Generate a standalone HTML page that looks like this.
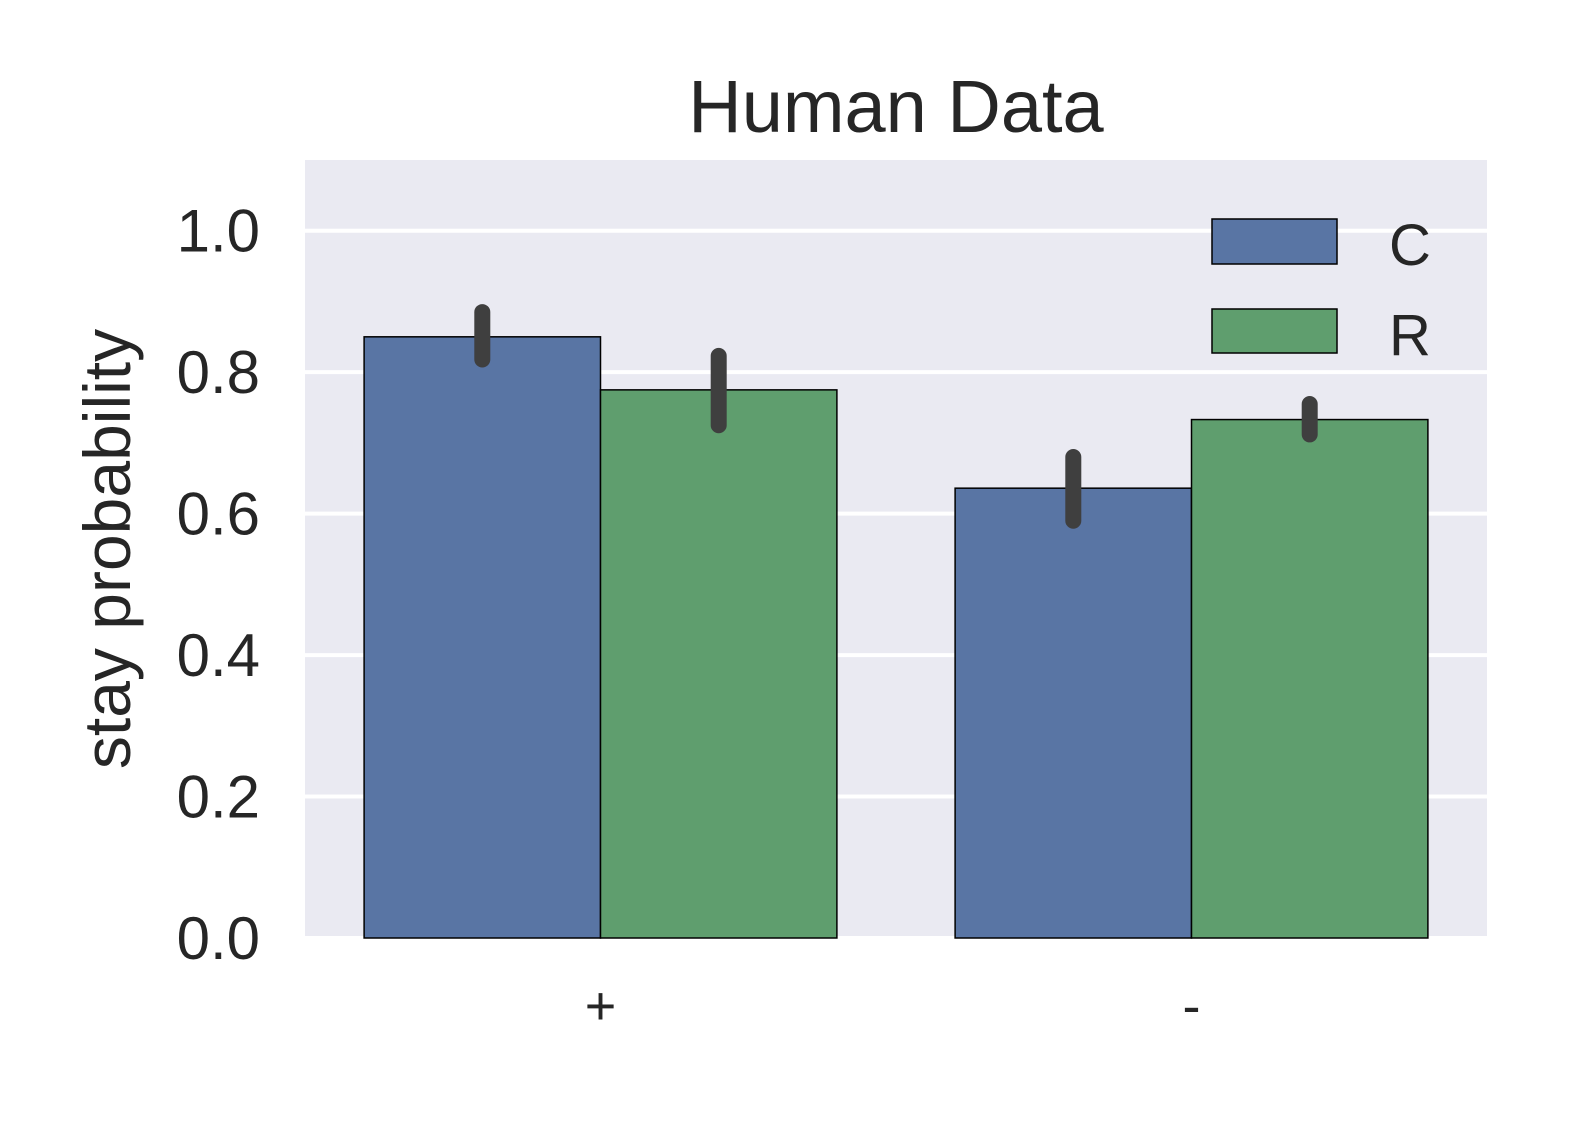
<!DOCTYPE html>
<html><head><meta charset="utf-8"><style>body{margin:0;background:#fff}svg{display:block}text{font-family:"Liberation Sans",Arial,sans-serif;fill:#262626}</style></head>
<body>
<svg id="chart" width="1575" height="1125" viewBox="0 0 1575 1125" xmlns="http://www.w3.org/2000/svg">
<rect x="305" y="160" width="1182" height="778" fill="#eaeaf2"/>
<g id="grid"></g><g id="bars"></g><g id="errs"></g><g id="ticks"></g>
<text x="896" y="132" font-size="74" text-anchor="middle">Human Data</text>
<text transform="translate(130,549) rotate(-90)" font-size="66" text-anchor="middle">stay probability</text>
<g>
<rect x="1212" y="219" width="125" height="45" fill="#5975a4" stroke="#000" stroke-width="1.5"/>
<text x="1410" y="265" font-size="58" text-anchor="middle">C</text>
<rect x="1212" y="309" width="125" height="44" fill="#5f9e6e" stroke="#000" stroke-width="1.5"/>
<text x="1410" y="355" font-size="58" text-anchor="middle">R</text>
</g>
</svg>
<script>
const categories = ["+", "-"];
const seriesNames = ["C", "R"];
const valuesC = [0.850, 0.636];
const valuesR = [0.775, 0.733];
const errLowC = [0.818, 0.590];
const errHighC = [0.885, 0.680];
const errLowR = [0.725, 0.712];
const errHighR = [0.823, 0.755];
const yTicks = [0, 0.2, 0.4, 0.6, 0.8, 1.0];
const yTickLabels = ["0.0","0.2","0.4","0.6","0.8","1.0"];
const NS="http://www.w3.org/2000/svg";
const x0=305,x1=1487,yTop=160,yBot=938,yMax=1.1;
const y=v=>yBot-(v/yMax)*(yBot-yTop);
const band=(x1-x0)/categories.length;
const cx=i=>x0+band*(i+0.5);
const bw=band*0.4;
function mk(t,a,p){const e=document.createElementNS(NS,t);for(const k in a)e.setAttribute(k,a[k]);document.getElementById(p).appendChild(e);return e;}
yTicks.forEach((v,i)=>{
  const l=mk('line',{x1:x0,x2:x1,y1:y(v),y2:y(v),stroke:'#fff','stroke-width':4},'grid');
  
  
  const t=mk('text',{x:260,y:y(v)+21,'font-size':60,'text-anchor':'end'},'ticks');
  t.textContent=yTickLabels[i];
  
  
});
const series=[[valuesC,errLowC,errHighC,'#5975a4'],[valuesR,errLowR,errHighR,'#5f9e6e']];
categories.forEach((c,i)=>{
  series.forEach((s,j)=>{
    const bx=cx(i)-bw+j*bw;
    const r=mk('rect',{x:bx,y:y(s[0][i]),width:bw,height:yBot-y(s[0][i]),fill:s[3],stroke:'#000','stroke-width':1.5},'bars');
    
    
    const e=mk('line',{x1:bx+bw/2,x2:bx+bw/2,y1:y(s[1][i]),y2:y(s[2][i]),stroke:'#3f3f3f','stroke-width':16,'stroke-linecap':'round'},'errs');
    
    
  });
  const t=mk('text',{x:cx(i),y:1024,'font-size':54,'text-anchor':'middle'},'ticks');
  t.textContent=c;
  
  
});
</script>
</body></html>
